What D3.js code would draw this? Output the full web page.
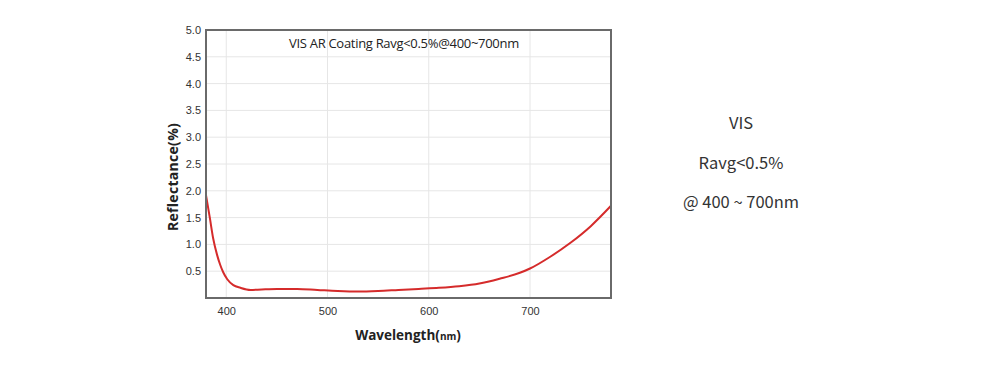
<!DOCTYPE html>
<html><head><meta charset="utf-8">
<script src="https://cdn.jsdelivr.net/npm/d3@7"></script>
<style>body{margin:0;background:#fff;} svg{display:block;}</style>
</head><body>
<script>
const wavelengths = [380,384,387,391,394,397,401,407,414,424,435,450,470,490,510,530,550,570,590,610,630,650,670,690,700,720,740,760,780];
const reflectance = [1.92,1.47,1.12,0.80,0.62,0.48,0.35,0.24,0.19,0.15,0.16,0.17,0.17,0.15,0.13,0.12,0.13,0.15,0.17,0.19,0.22,0.27,0.36,0.47,0.55,0.77,1.03,1.34,1.72];
const xTicks = [400,500,600,700];
const yTicks = [0.5,1.0,1.5,2.0,2.5,3.0,3.5,4.0,4.5,5.0];
const chartTitle = "VIS AR Coating Ravg<0.5%@400~700nm";
const sideLines = ["VIS","Ravg<0.5%","@ 400 ~ 700nm"];

const W=1000,H=368;
const svg=d3.select("body").append("svg").attr("width",W).attr("height",H);
const L=206,R=611,T=30,B=298;
const x=d3.scaleLinear().domain([380,780]).range([L,R]);
const y=d3.scaleLinear().domain([0,5]).range([B,T]);

const g=svg.append("g");
// grid
g.selectAll(".vg").data(xTicks).join("line").attr("x1",d=>x(d)).attr("x2",d=>x(d)).attr("y1",T).attr("y2",B).attr("stroke","#e6e6e6").attr("stroke-width",1);
g.selectAll(".hg").data(yTicks).join("line").attr("x1",L).attr("x2",R).attr("y1",d=>y(d)).attr("y2",d=>y(d)).attr("stroke","#e6e6e6").attr("stroke-width",1);

// axes
const ya=d3.axisLeft(y).tickValues(yTicks).tickFormat(d3.format(".1f")).tickSize(0).tickPadding(5);
const ay=svg.append("g").attr("transform",`translate(${L},0)`).call(ya);
ay.select(".domain").remove();
ay.selectAll("text").attr("font-family","Liberation Sans, Arial, sans-serif").attr("font-size",11).attr("fill","#333");
const xa=d3.axisBottom(x).tickValues(xTicks).tickFormat(d3.format("d")).tickSize(0).tickPadding(9);
const ax=svg.append("g").attr("transform",`translate(0,${B})`).call(xa);
ax.select(".domain").remove();
ax.selectAll("text").attr("font-family","Liberation Sans, Arial, sans-serif").attr("font-size",11).attr("fill","#333");

// curve
const line=d3.line().x((d,i)=>x(wavelengths[i])).y(d=>y(d)).curve(d3.curveMonotoneX);
svg.append("path").datum(reflectance).attr("d",line).attr("fill","none").attr("stroke","#d52b2b").attr("stroke-width",2);

// frame
svg.append("rect").attr("x",L).attr("y",T).attr("width",R-L).attr("height",B-T).attr("fill","none").attr("stroke","#6a6a6a").attr("stroke-width",2);

// title
svg.append("text").attr("x",404).attr("y",48).attr("text-anchor","middle").attr("font-family","Open Sans, sans-serif").attr("font-size",13).attr("fill","#222").attr("letter-spacing","-0.3").text(chartTitle);

// axis labels
svg.append("text").attr("transform",`translate(178,177) rotate(-90)`).attr("text-anchor","middle").attr("font-family","Open Sans, sans-serif").attr("font-weight","bold").attr("font-size",14).attr("letter-spacing","0.3").attr("fill","#222").text("Reflectance(%)");
const xl=svg.append("text").attr("x",408).attr("y",340).attr("text-anchor","middle").attr("font-family","Open Sans, sans-serif").attr("font-weight","bold").attr("font-size",13.5).attr("fill","#222");
xl.append("tspan").text("Wavelength(");
xl.append("tspan").attr("font-size",10).text("nm");
xl.append("tspan").text(")");

// side text
svg.selectAll(".side").data(sideLines).join("text").attr("x",741).attr("y",(d,i)=>[129,169,208][i]).attr("text-anchor","middle").attr("font-family","Noto Sans CJK KR, Noto Sans, sans-serif").attr("font-size",16.5).attr("fill","#333").text(d=>d);
</script>
</body></html>
